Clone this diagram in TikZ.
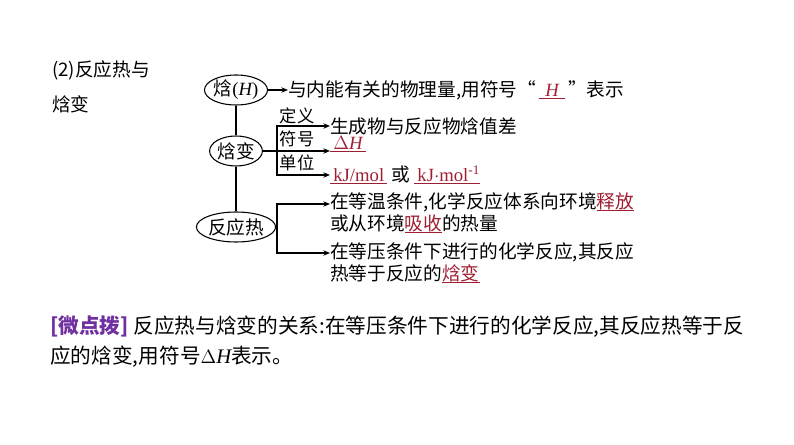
\documentclass[tikz,border=0pt]{standalone}
\usepackage{fontspec}
\setmainfont{Liberation Serif}
\newfontfamily\cjk{Noto Sans CJK SC}
\newfontfamily\lat{Liberation Serif}
\usetikzlibrary{arrows.meta,shapes.geometric}
\definecolor{dred}{RGB}{160,30,50}
\definecolor{purp}{RGB}{112,48,160}
\tikzset{
 ell/.style={ellipse,draw,line width=0.8pt,inner sep=0pt,font=\cjk\fontsize{14}{14}\selectfont},
 txt/.style={anchor=west,inner sep=0pt,font=\cjk\fontsize{14}{17}\selectfont,align=left},
 lbl/.style={inner sep=0pt,font=\cjk\fontsize{13}{13}\selectfont},
 con/.style={line width=0.8pt},
 arr/.style={con,-{Stealth[length=5pt,width=4pt]}}
}
\newcommand{\ul}[1]{\underline{\smash{#1}}}
\newcommand{\li}[1]{{\lat\itshape #1}}
\newcommand{\lr}[1]{{\lat #1}}
\begin{document}
\begin{tikzpicture}[x=0.75pt,y=-0.75pt]
\useasboundingbox (0,0) rectangle (794,445);
\node[anchor=west,inner sep=0pt,font=\cjk\fontsize{14}{14}\selectfont] (t1) at (52,70) {(2)反应热与};
\node[anchor=west,inner sep=0pt,font=\cjk\fontsize{14}{14}\selectfont] (t2) at (52,104) {焓变};
\node[ell,minimum width=60*0.75pt,minimum height=30*0.75pt] (H) at (236,90) {焓\lr{(}\li{H}\lr{)}};
\node[ell,minimum width=50*0.75pt,minimum height=30*0.75pt] (dH) at (236,151) {焓变};
\node[ell,minimum width=68*0.75pt,minimum height=30*0.75pt] (Q) at (236,227) {反应热};
\draw[con] (H) -- (dH) (dH) -- (Q);
\node[txt] (h1) at (288,90) {与内能有关的物理量,用符号“\,\textcolor{dred}{\ul{\li{\,\,H\,\,}}}\,”表示};
\draw[arr] (H.east) -- (h1.west);
\coordinate (b1) at (277,151);
\node[txt] (d1) at (330,126) {生成物与反应物焓值差};
\node[txt] (d2) at (330,151) {\textcolor{dred}{\ul{\lr{\,$\Delta$}\li{H}\,}}};
\node[txt] (d3) at (330,175) {\textcolor{dred}{\ul{\lr{\,kJ/mol\,}}} 或 \textcolor{dred}{\ul{\lr{\,kJ$\cdot$mol\textsuperscript{-1}}}}};
\draw[con] (dH.east) -- (b1);
\draw[arr] (b1) |- (d1.west);
\draw[arr] (b1) -- (d2.west|-b1);
\draw[arr] (b1) |- (d3.west);
\node[lbl] at (297,116) {定义};
\node[lbl] at (297,139) {符号};
\node[lbl] at (297,163) {单位};
\coordinate (b2) at (277,227);
\node[txt,anchor=north west] (q1) at (330,192) {在等温条件,化学反应体系向环境\textcolor{dred}{\ul{释放}}\\或从环境\textcolor{dred}{\ul{吸收}}的热量};
\node[txt,anchor=north west] (q2) at (330,242) {在等压条件下进行的化学反应,其反应\\热等于反应的\textcolor{dred}{\ul{焓变}}};
\draw[con] (Q.east) -- (b2);
\draw[arr] (b2) |- (q1.west|-0,204);
\draw[arr] (b2) |- (q2.west|-0,253);
\node[anchor=west,inner sep=0pt,font=\cjk\fontsize{15.5}{15.5}\selectfont] (n1) at (50,327) {\textcolor{purp}{\bfseries[微点拨]} 反应热与焓变的关系:在等压条件下进行的化学反应,其反应热等于反};
\node[anchor=west,inner sep=0pt,font=\cjk\fontsize{15.5}{15.5}\selectfont] (n2) at (50,357) {应的焓变,用符号\lr{$\Delta$}\li{H}表示。};
\end{tikzpicture}
\end{document}
